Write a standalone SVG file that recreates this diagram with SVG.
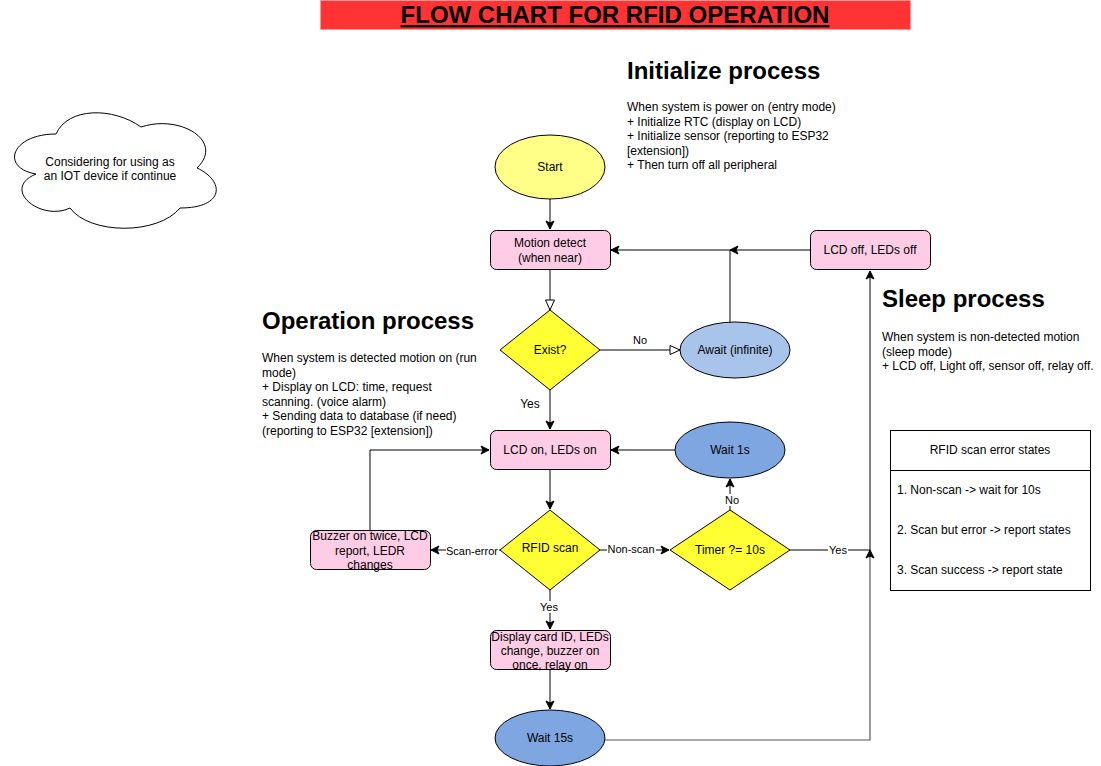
<svg xmlns="http://www.w3.org/2000/svg" width="1101" height="766" viewBox="0 0 1101 766">
<defs>
<marker id="arr" markerWidth="10" markerHeight="10" refX="9" refY="5" orient="auto" markerUnits="userSpaceOnUse">
<path d="M1,1 L9,5 L1,9 L3,5 Z" fill="#000" stroke="#000" stroke-width="1"/>
</marker>
<marker id="open" markerWidth="12" markerHeight="12" refX="11" refY="6" orient="auto" markerUnits="userSpaceOnUse">
<path d="M1,1.5 L11,6 L1,10.5 Z" fill="#fff" stroke="#000" stroke-width="1"/>
</marker>
<style>
text{font-family:"Liberation Sans",Arial,sans-serif;font-size:12px;fill:#000}
.c{text-anchor:middle}
.h{font-size:24px;font-weight:bold}
.lbl{font-size:11px}
.box{fill:#FFCCE6;stroke:#000;stroke-width:1}
.dia{fill:#FFFF33;stroke:#000;stroke-width:1}
.ln{fill:none;stroke:#000;stroke-width:1}
.lbg{fill:#fff}
</style>
</defs>
<rect width="1101" height="766" fill="#fff"/>

<g id="title">
<rect x="320.5" y="0.5" width="590" height="29" fill="#FF3333" stroke="#FF9999"/>
<text x="615" y="23" class="c" style="font-size:24px;font-weight:bold;text-decoration:underline">FLOW CHART FOR RFID OPERATION</text>
</g>

<g id="initialize-text">
<text x="627" y="79" class="h">Initialize process</text>
<text x="627" y="111">When system is power on (entry mode)</text>
<text x="627" y="125.5">+ Initialize RTC (display on LCD)</text>
<text x="627" y="140">+ Initialize sensor (reporting to ESP32</text>
<text x="627" y="154.5">[extension])</text>
<text x="627" y="169">+ Then turn off all peripheral</text>
</g>

<g id="operation-text">
<text x="262" y="329" class="h">Operation process</text>
<text x="262" y="362">When system is detected motion on (run</text>
<text x="262" y="376.5">mode)</text>
<text x="262" y="391">+ Display on LCD: time, request</text>
<text x="262" y="405.5">scanning. (voice alarm)</text>
<text x="262" y="420">+ Sending data to database (if need)</text>
<text x="262" y="434.5">(reporting to ESP32 [extension])</text>
</g>

<g id="sleep-text">
<text x="882" y="307" class="h">Sleep process</text>
<text x="882" y="341">When system is non-detected motion</text>
<text x="882" y="355.5">(sleep mode)</text>
<text x="882" y="370">+ LCD off, Light off, sensor off, relay off.</text>
</g>

<g id="cloud">
<path d="M56,134 C11,134 0,168 36,174 C0,189 41,222 70,208 C90,235 158,235 180,208 C225,208 225,181 197,168 C225,141 180,114 141,127 C113,107 68,107 56,134 Z" fill="#fff" stroke="#000"/>
<text x="110" y="166" class="c">Considering for using as</text>
<text x="110" y="180" class="c">an IOT device if continue</text>
</g>

<g id="connectors">
<line x1="550" y1="199" x2="550" y2="229" class="ln" marker-end="url(#arr)"/>
<line x1="550" y1="270" x2="550" y2="310" class="ln" marker-end="url(#open)"/>
<line x1="600" y1="350" x2="680" y2="350" class="ln" marker-end="url(#open)"/>
<path d="M730,322 V250" class="ln"/>
<line x1="810" y1="250" x2="730" y2="250" class="ln" marker-end="url(#arr)"/>
<line x1="730" y1="250" x2="611" y2="250" class="ln" marker-end="url(#arr)"/>
<line x1="550" y1="390" x2="550" y2="429" class="ln" marker-end="url(#arr)"/>
<line x1="675" y1="450" x2="611" y2="450" class="ln" marker-end="url(#arr)"/>
<line x1="550" y1="470" x2="550" y2="509" class="ln" marker-end="url(#arr)"/>
<line x1="730" y1="510" x2="730" y2="479" class="ln" marker-end="url(#arr)"/>
<line x1="600" y1="550" x2="669" y2="550" class="ln" marker-end="url(#arr)"/>
<line x1="500" y1="550" x2="431" y2="550" class="ln" marker-end="url(#arr)"/>
<path d="M370,530 V450 H489" class="ln" marker-end="url(#arr)"/>
<line x1="550" y1="590" x2="550" y2="629" class="ln" marker-end="url(#arr)"/>
<line x1="550" y1="670" x2="550" y2="709" class="ln" marker-end="url(#arr)"/>
<path d="M790,550 H870" class="ln"/>
<path d="M605,740 H870 V550" fill="none" stroke="#555" stroke-width="1.2" marker-end="url(#arr)"/>
<line x1="870" y1="550" x2="870" y2="271" class="ln" marker-end="url(#arr)"/>
<text x="640" y="344" class="c lbl">No</text>
<text x="530" y="408" class="c">Yes</text>
<rect x="723" y="494" width="16" height="12" class="lbg"/>
<text x="732" y="504" class="c lbl">No</text>
<rect x="607" y="543" width="49" height="13" class="lbg"/>
<text x="631" y="553" class="c lbl">Non-scan</text>
<rect x="446" y="544" width="53" height="13" class="lbg"/>
<text x="472" y="555" class="c lbl">Scan-error</text>
<rect x="539" y="601" width="21" height="12" class="lbg"/>
<text x="549" y="611" class="c lbl">Yes</text>
<rect x="828" y="544" width="20" height="12" class="lbg"/>
<text x="838" y="554" class="c lbl">Yes</text>
</g>

<g id="start">
<ellipse cx="550" cy="167" rx="55" ry="32" fill="#FFFF88" stroke="#000"/>
<text x="550" y="171" class="c">Start</text>
</g>
<g id="motion-detect">
<rect x="490.5" y="230.5" width="120" height="39" rx="6" class="box"/>
<text x="550" y="247" class="c">Motion detect</text>
<text x="550" y="262" class="c">(when near)</text>
</g>
<g id="exist">
<path d="M550,310 L600,350 L550,390 L500,350 Z" class="dia"/>
<text x="550" y="354" class="c">Exist?</text>
</g>
<g id="await">
<ellipse cx="735" cy="350" rx="55" ry="28" fill="#A9C4EB" stroke="#000"/>
<text x="735" y="354" class="c">Await (infinite)</text>
</g>
<g id="lcd-off">
<rect x="810.5" y="230.5" width="120" height="39" rx="6" class="box"/>
<text x="870" y="254" class="c">LCD off, LEDs off</text>
</g>
<g id="lcd-on">
<rect x="490.5" y="430.5" width="120" height="39" rx="6" class="box"/>
<text x="550" y="454" class="c">LCD on, LEDs on</text>
</g>
<g id="wait1s">
<ellipse cx="730" cy="450" rx="55" ry="28" fill="#7EA6E0" stroke="#000"/>
<text x="730" y="454" class="c">Wait 1s</text>
</g>
<g id="rfid-scan">
<path d="M550,510 L600,550 L550,590 L500,550 Z" class="dia"/>
<text x="550" y="552" class="c">RFID scan</text>
</g>
<g id="timer">
<path d="M730,510 L790,550 L730,590 L670,550 Z" class="dia"/>
<text x="730" y="554" class="c">Timer ?= 10s</text>
</g>
<g id="buzzer">
<rect x="310.5" y="530.5" width="120" height="39" rx="6" class="box"/>
<text x="370" y="540" class="c">Buzzer on twice, LCD</text>
<text x="370" y="555" class="c">report, LEDR</text>
<text x="370" y="569" class="c">changes</text>
</g>
<g id="display">
<rect x="490.5" y="630.5" width="120" height="39" rx="6" class="box"/>
<text x="550" y="641" class="c">Display card ID, LEDs</text>
<text x="550" y="655" class="c">change, buzzer on</text>
<text x="550" y="669" class="c">once, relay on</text>
</g>
<g id="wait15s">
<ellipse cx="550" cy="738" rx="55" ry="28" fill="#7EA6E0" stroke="#000"/>
<text x="550" y="742" class="c">Wait 15s</text>
</g>
<g id="error-states">
<rect x="890.5" y="430.5" width="200" height="160" fill="#fff" stroke="#000"/>
<line x1="890.5" y1="470.5" x2="1090.5" y2="470.5" stroke="#000"/>
<text x="990" y="454" class="c">RFID scan error states</text>
<text x="897" y="494">1. Non-scan -&gt; wait for 10s</text>
<text x="897" y="534">2. Scan but error -&gt; report states</text>
<text x="897" y="574">3. Scan success -&gt; report state</text>
</g>
</svg>
